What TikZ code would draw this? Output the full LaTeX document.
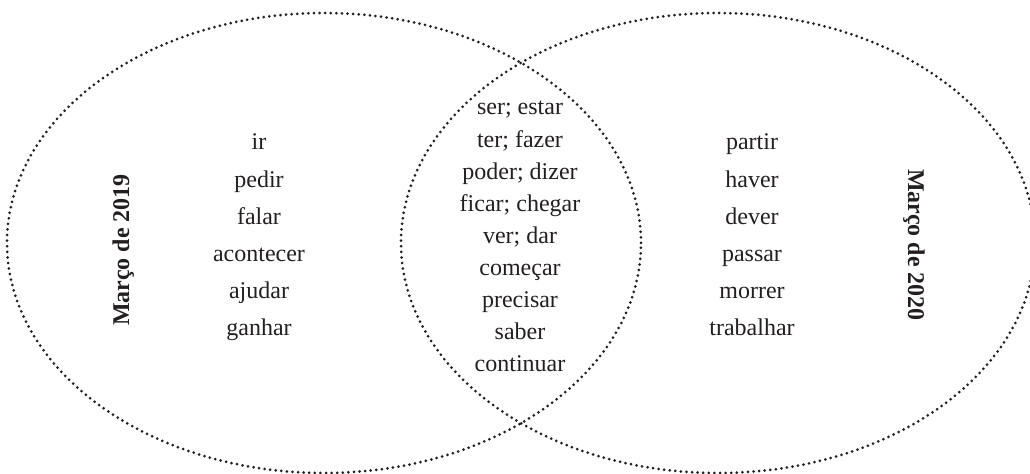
\documentclass[tikz,border=0pt]{standalone}
\usepackage{fontspec}
\setmainfont{Liberation Serif}
\usetikzlibrary{shapes.geometric}
\definecolor{ink}{RGB}{35,31,32}
\begin{document}
\begin{tikzpicture}[x=0.5pt,y=-0.5pt,
  setring/.style={ellipse,draw=ink,line width=1.5pt,line cap=round,
    dash pattern=on 0pt off 2.8pt,minimum width=317pt,minimum height=230pt,inner sep=0pt},
  word/.style={font=\fontsize{12}{14}\selectfont,text=ink,anchor=base,inner sep=0pt},
  yearlabel/.style={font=\bfseries\fontsize{12}{14}\selectfont,text=ink,anchor=base,inner sep=0pt}]
\useasboundingbox (0,0) rectangle (1030,474);
\node[setring] (A) at (324,243) {};
\node[setring] (B) at (718,243) {};
\foreach \w [count=\i] in {ir,pedir,falar,acontecer,ajudar,ganhar}
  \node[word] (L\i) at (259,{150+37.2*(\i-1)}) {\w};
\foreach \w [count=\i] in {partir,haver,dever,passar,morrer,trabalhar}
  \node[word] (R\i) at (752,{150+37.2*(\i-1)}) {\w};
\foreach \w [count=\i] in {ser; estar,ter; fazer,poder; dizer,ficar; chegar,ver; dar,começar,precisar,saber,continuar}
  \node[word] (M\i) at (520,{115+32.1*(\i-1)}) {\w};
\node[yearlabel,rotate=90] (LA) at (129,250) {Março de 2019};
\node[yearlabel,rotate=-90] (RA) at (908,245) {Março de 2020};
\end{tikzpicture}
\end{document}
